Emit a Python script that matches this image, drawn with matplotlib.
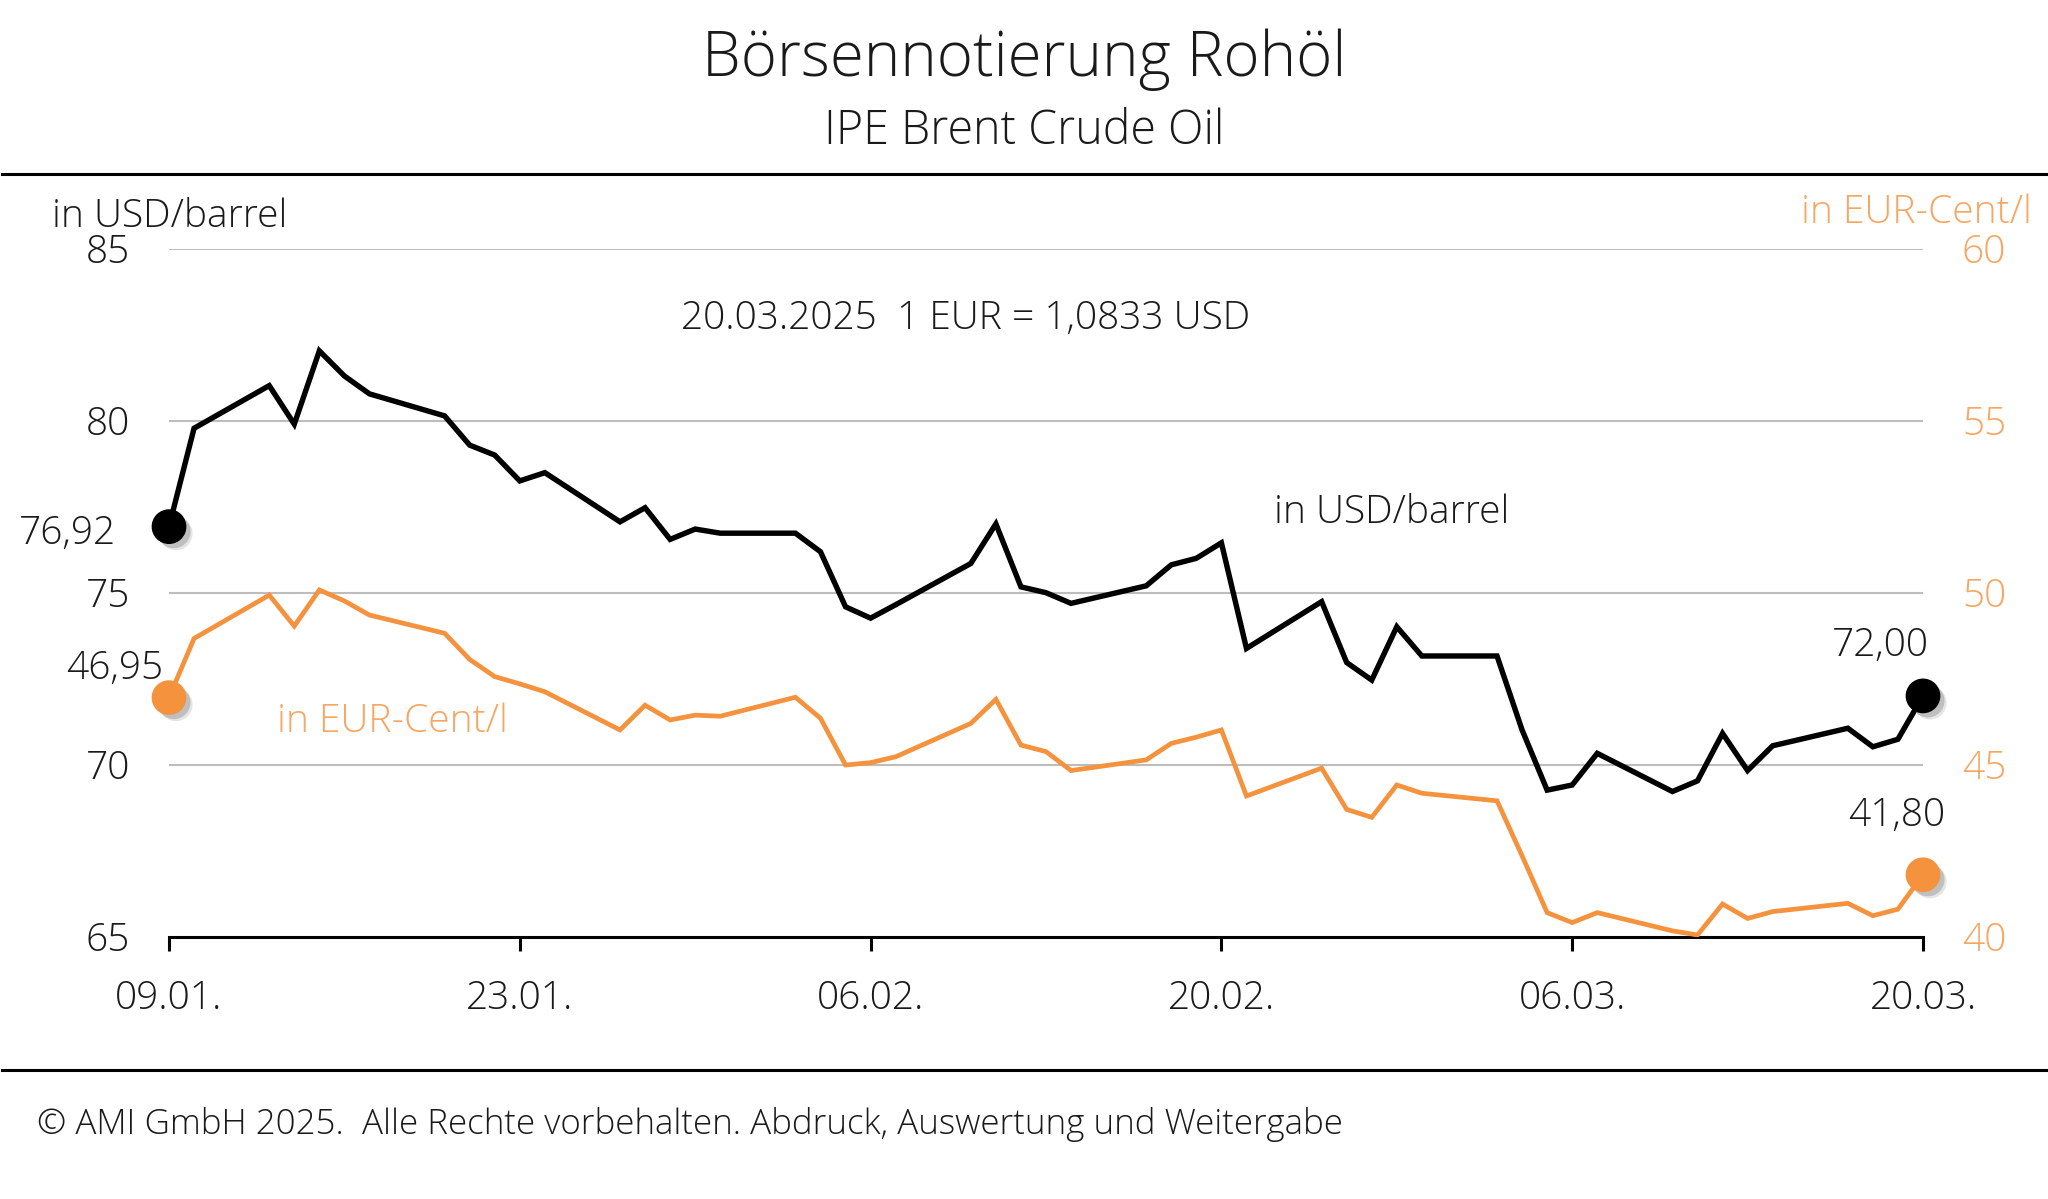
import matplotlib
matplotlib.use("Agg")
import matplotlib.pyplot as plt
import matplotlib.dates as mdates
import matplotlib.patheffects as pe
from matplotlib.lines import Line2D
import pandas as pd

# ---------------- data ----------------
dates = ["2025-01-09", "2025-01-10", "2025-01-13", "2025-01-14", "2025-01-15", "2025-01-16", "2025-01-17",
         "2025-01-20", "2025-01-21", "2025-01-22", "2025-01-23", "2025-01-24",
         "2025-01-27", "2025-01-28", "2025-01-29", "2025-01-30", "2025-01-31",
         "2025-02-03", "2025-02-04", "2025-02-05", "2025-02-06", "2025-02-07",
         "2025-02-10", "2025-02-11", "2025-02-12", "2025-02-13", "2025-02-14",
         "2025-02-17", "2025-02-18", "2025-02-19", "2025-02-20", "2025-02-21",
         "2025-02-24", "2025-02-25", "2025-02-26", "2025-02-27", "2025-02-28",
         "2025-03-03", "2025-03-04", "2025-03-05", "2025-03-06", "2025-03-07",
         "2025-03-10", "2025-03-11", "2025-03-12", "2025-03-13", "2025-03-14",
         "2025-03-17", "2025-03-18", "2025-03-19", "2025-03-20"]

usd_barrel = [76.92, 79.78, 81.02, 79.90, 82.03, 81.30, 80.78,
              80.14, 79.29, 79.00, 78.25, 78.49,
              77.06, 77.47, 76.55, 76.85, 76.73,
              76.73, 76.19, 74.59, 74.26, 74.65,
              75.85, 77.00, 75.17, 75.00, 74.69,
              75.20, 75.81, 76.00, 76.45, 73.38,
              74.74, 72.97, 72.46, 74.01, 73.16,
              73.16, 71.01, 69.26, 69.41, 70.33,
              69.22, 69.53, 70.91, 69.83, 70.55,
              71.06, 70.52, 70.74, 72.00]

eur_cent_l = [46.95, 48.67, 49.93, 49.03, 50.08, 49.76, 49.35,
              48.82, 48.06, 47.56, 47.35, 47.12,
              46.01, 46.73, 46.30, 46.44, 46.41,
              46.96, 46.35, 44.99, 45.06, 45.23,
              46.20, 46.90, 45.57, 45.38, 44.83,
              45.14, 45.62, 45.80, 46.01, 44.09,
              44.90, 43.70, 43.47, 44.41, 44.17,
              43.95, 42.35, 40.70, 40.41, 40.70,
              40.17, 40.05, 40.95, 40.53, 40.73,
              40.97, 40.61, 40.80, 41.80]

x_ticks = ["2025-01-09", "2025-01-23", "2025-02-06", "2025-02-20", "2025-03-06", "2025-03-20"]
usd_ticks = [65, 70, 75, 80, 85]
eur_ticks = [40, 45, 50, 55, 60]

title = "Börsennotierung Rohöl"
subtitle = "IPE Brent Crude Oil"
rate_note = "20.03.2025  1 EUR = 1,0833 USD"
footer = "© AMI GmbH 2025.  Alle Rechte vorbehalten. Abdruck, Auswertung und Weitergabe"

# ---------------- style ----------------
FONT = "Open Sans"
plt.rcParams["font.family"] = [FONT, "DejaVu Sans"]
plt.rcParams["font.weight"] = "light"
TXT = "#1a1a1a"
ORANGE = "#F5923E"
ORANGE_TXT = "#F7A663"
GRID = "#BDBDBD"
FS = 28

W, H = 2048, 1199
fig = plt.figure(figsize=(W / 100, H / 100), dpi=100)

def fx(px):
    return px / W

def fy(py):
    return 1 - py / H

left, right, top, bottom = 169, 1923, 248.7, 936.7
ax = fig.add_axes([fx(left), fy(bottom), fx(right - left), (bottom - top) / H])
ax2 = ax.twinx()

d = pd.to_datetime(dates)
ax.plot(d, usd_barrel, color="black", lw=3.9, solid_joinstyle="miter", zorder=5)
ax2.plot(d, eur_cent_l, color=ORANGE, lw=3.4, solid_joinstyle="miter", zorder=5)

shadow = [pe.SimplePatchShadow(offset=(5, -5), shadow_rgbFace="#9a9a9a", alpha=0.25),
          pe.SimplePatchShadow(offset=(3.5, -3.5), shadow_rgbFace="#7a7a7a", alpha=0.35),
          pe.Normal()]
ax.plot([d[0], d[-1]], [usd_barrel[0], usd_barrel[-1]], ls="none", marker="o", ms=24,
        color="black", zorder=6, path_effects=shadow, clip_on=False)
ax2.plot([d[0], d[-1]], [eur_cent_l[0], eur_cent_l[-1]], ls="none", marker="o", ms=24,
         color=ORANGE, zorder=6, path_effects=shadow, clip_on=False)

ax.set_xlim(pd.Timestamp(dates[0]), pd.Timestamp(dates[-1]))
ax.set_ylim(65, 85)
ax2.set_ylim(40, 60)

ax.set_yticks(usd_ticks)
ax.set_yticklabels([str(v) for v in usd_ticks])
ax2.set_yticks(eur_ticks)
ax2.set_yticklabels([str(v) for v in eur_ticks])
xt = pd.to_datetime(x_ticks)
ax.set_xticks(xt)
ax.xaxis.set_major_formatter(mdates.DateFormatter("%d.%m."))

for a in (ax, ax2):
    for s in ("top", "left", "right"):
        a.spines[s].set_visible(False)
ax2.spines["bottom"].set_visible(False)
ax.spines["bottom"].set_linewidth(2.2)
ax.spines["bottom"].set_color("black")
ax.spines["bottom"].set_zorder(7)

ax.grid(axis="y", color=GRID, lw=1.5)
ax.set_axisbelow(True)
ax.tick_params(axis="y", length=0, pad=28, labelsize=FS, labelcolor=TXT)
ax.tick_params(axis="x", length=10, width=2.2, direction="out", pad=21, labelsize=FS, labelcolor=TXT)
ax2.tick_params(axis="y", length=0, pad=28, labelsize=FS, labelcolor=ORANGE_TXT)

# ---------------- texts ----------------
fig.text(0.5, fy(60), title, ha="center", va="center", fontsize=44.5, color=TXT)
fig.text(0.5, fy(132), subtitle, ha="center", va="center", fontsize=33.5, color=TXT)
fig.add_artist(Line2D([0.001, 0.999], [fy(174), fy(174)], color="black", lw=2.2))
fig.add_artist(Line2D([0.001, 0.999], [fy(1070), fy(1070)], color="black", lw=2.2))
fig.text(fx(37), fy(1125), footer, ha="left", va="center", fontsize=25.2, color=TXT)

fig.text(fx(52), fy(217), "in USD/barrel", ha="left", va="center", fontsize=FS, color=TXT)
fig.text(fx(2032), fy(213), "in EUR-Cent/l", ha="right", va="center", fontsize=FS, color=ORANGE_TXT)
fig.text(fx(966), fy(319), rate_note, ha="center", va="center", fontsize=FS, color=TXT)
fig.text(fx(1392), fy(513), "in USD/barrel", ha="center", va="center", fontsize=FS, color=TXT)
fig.text(fx(392), fy(722), "in EUR-Cent/l", ha="center", va="center", fontsize=FS, color=ORANGE_TXT)

fig.text(fx(116), fy(534), "76,92", ha="right", va="center", fontsize=FS, color=TXT)
fig.text(fx(163), fy(669), "46,95", ha="right", va="center", fontsize=FS, color=TXT)
fig.text(fx(1929), fy(646), "72,00", ha="right", va="center", fontsize=FS, color=TXT)
fig.text(fx(1945), fy(816), "41,80", ha="right", va="center", fontsize=FS, color=TXT)

fig.savefig("out.png", dpi=100)
